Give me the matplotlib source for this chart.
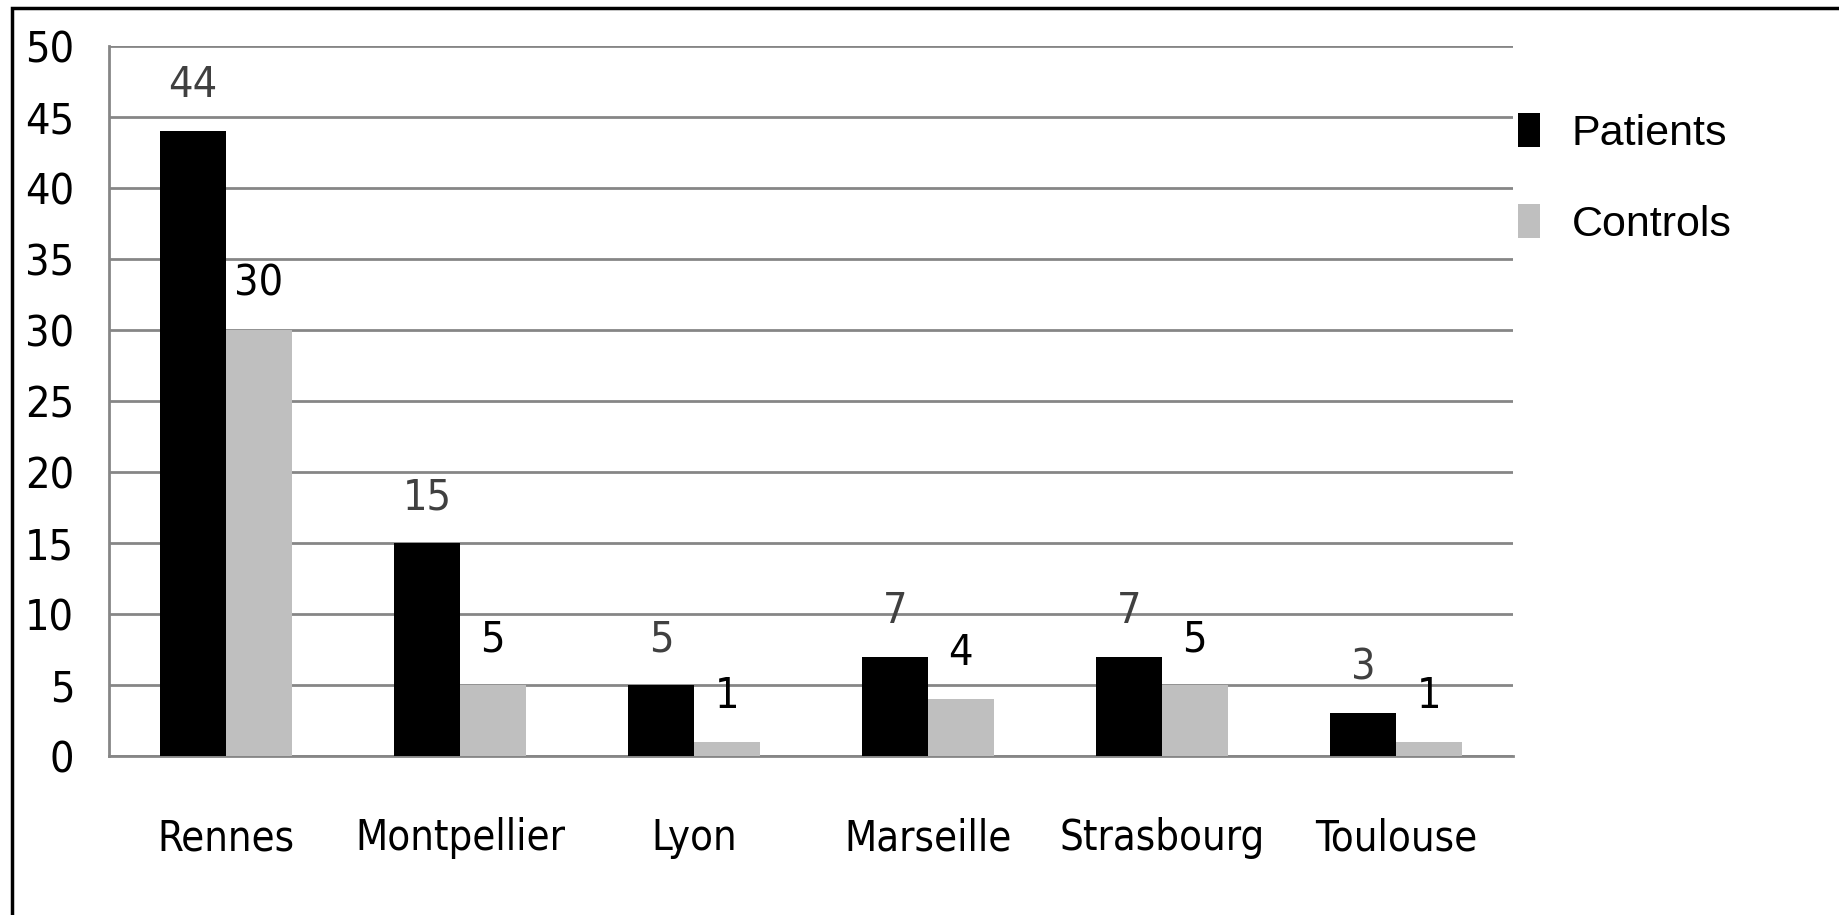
import matplotlib
matplotlib.use("Agg")
import matplotlib.pyplot as plt
import numpy as np
from matplotlib.patches import Rectangle

cities = ["Rennes", "Montpellier", "Lyon", "Marseille", "Strasbourg", "Toulouse"]
patients = [44, 15, 5, 7, 7, 3]
controls = [30, 5, 1, 4, 5, 1]
yticks = [0, 5, 10, 15, 20, 25, 30, 35, 40, 45, 50]

W, H = 1839, 915
GRID = "#868686"
NARROW = dict(family="DejaVu Sans", stretch="condensed")

fig = plt.figure(figsize=(W / 100, H / 100), dpi=100)
# axes box in pixel coords: left 109, right 1513, top 46, bottom 756
ax = fig.add_axes([109 / W, 1 - 756 / H, (1513 - 109) / W, (756 - 46) / H])

x = np.arange(len(cities))
width = 0.28
b1 = ax.bar(x - width / 2, patients, width, color="black", label="Patients", zorder=3)
b2 = ax.bar(x + width / 2, controls, width, color="#bfbfbf", label="Controls", zorder=3)

for rect, v in zip(b1, patients):
    ax.annotate(str(v), (rect.get_x() + rect.get_width() / 2, v), xytext=(0, 18),
                textcoords="offset points", ha="center", va="bottom",
                fontsize=31, color="#404040", **NARROW)
for rect, v in zip(b2, controls):
    ax.annotate(str(v), (rect.get_x() + rect.get_width() / 2, v), xytext=(0, 18),
                textcoords="offset points", ha="center", va="bottom",
                fontsize=31, color="black", **NARROW)

ax.set_xlim(-0.5, len(cities) - 0.5)
ax.set_ylim(0, 50)
ax.set_yticks(yticks)
ax.set_xticks(x)
ax.set_xticklabels(cities)
ax.yaxis.grid(True, color=GRID, linewidth=2, zorder=0)
ax.set_axisbelow(True)
for s in ["top", "right"]:
    ax.spines[s].set_visible(False)
for s in ["left", "bottom"]:
    ax.spines[s].set_color(GRID)
    ax.spines[s].set_linewidth(2)
ax.tick_params(axis="y", length=0, labelsize=31, pad=25)
ax.tick_params(axis="x", length=0, labelsize=30, pad=44)
for lab in ax.get_xticklabels() + ax.get_yticklabels():
    lab.set_family(NARROW["family"])
    lab.set_stretch(NARROW["stretch"])

leg = fig.legend(handles=[b1, b2], loc="upper left",
                 bbox_to_anchor=(1518 / W, 1 - 113 / H), bbox_transform=fig.transFigure,
                 frameon=False, borderpad=0, borderaxespad=0,
                 handlelength=0.5, handleheight=0.85, handletextpad=0.75,
                 labelspacing=1.15, prop={"family": "Liberation Sans", "size": 31})

# outer frame (left and top edges visible)
fig.add_artist(Rectangle((12 / W, -0.1), 1.2, 1.1 - 8 / H, transform=fig.transFigure,
                         fill=False, edgecolor="black", linewidth=2.5))

fig.savefig("out.png", dpi=100)
